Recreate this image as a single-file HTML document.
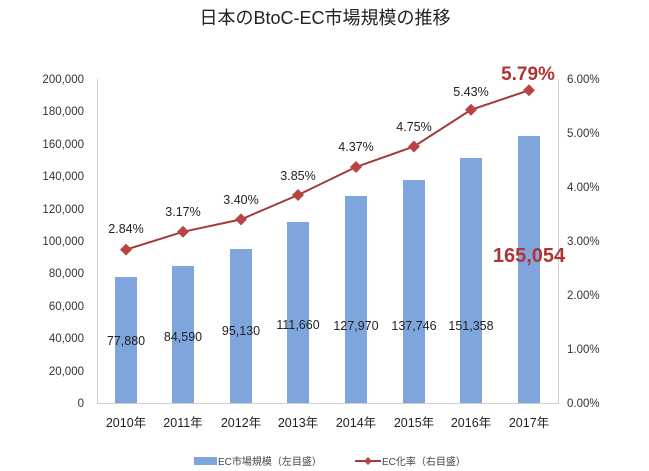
<!DOCTYPE html>
<html><head><meta charset="utf-8"><style>
html,body{margin:0;padding:0;background:#fff;}
svg{display:block;font-family:"Liberation Sans","Noto Sans CJK JP",sans-serif;}
</style></head><body>
<svg width="649" height="471" viewBox="0 0 649 471">
<text x="325" y="24" text-anchor="middle" font-size="18" fill="#222">日本のBtoC-EC市場規模の推移</text>
<g stroke="#d0d0d0" stroke-width="1">
<line x1="97.5" y1="79" x2="97.5" y2="403"/>
<line x1="558.5" y1="79" x2="558.5" y2="403"/>
<line x1="97" y1="403.5" x2="559" y2="403.5"/>
</g>
<g font-size="11.5" fill="#333" text-anchor="end">
<text x="84" y="83">200,000</text><text x="84" y="115">180,000</text><text x="84" y="148">160,000</text><text x="84" y="180">140,000</text><text x="84" y="213">120,000</text><text x="84" y="245">100,000</text><text x="84" y="277">80,000</text><text x="84" y="310">60,000</text><text x="84" y="342">40,000</text><text x="84" y="375">20,000</text><text x="84" y="407">0</text>
</g>
<g font-size="11.5" fill="#333">
<text x="567" y="83">6.00%</text><text x="567" y="137">5.00%</text><text x="567" y="191">4.00%</text><text x="567" y="245">3.00%</text><text x="567" y="299">2.00%</text><text x="567" y="353">1.00%</text><text x="567" y="407">0.00%</text>
</g>
<g fill="#7ea6dc">
<rect x="115" y="277" width="22" height="126"/>
<rect x="172" y="266" width="22" height="137"/>
<rect x="230" y="249" width="22" height="154"/>
<rect x="287" y="222" width="22" height="181"/>
<rect x="345" y="196" width="22" height="207"/>
<rect x="403" y="180" width="22" height="223"/>
<rect x="460" y="158" width="22" height="245"/>
<rect x="518" y="136" width="22" height="267"/>
</g>
<g font-size="12.5" fill="#222" text-anchor="middle">
<text x="126" y="345">77,880</text><text x="183" y="341">84,590</text><text x="241" y="335">95,130</text><text x="298" y="329">111,660</text><text x="356" y="330">127,970</text><text x="414" y="330">137,746</text><text x="471" y="330">151,358</text>
</g>
<polyline fill="none" stroke="#a33a3a" stroke-width="2" points="126,249.6 183,231.8 241,219.4 298,195 356,167 414,146.5 471,109.8 529,90.3"/>
<g fill="#b94444">
<path d="M126,243.6l6,6l-6,6l-6,-6z"/><path d="M183,225.8l6,6l-6,6l-6,-6z"/><path d="M241,213.4l6,6l-6,6l-6,-6z"/><path d="M298,189l6,6l-6,6l-6,-6z"/><path d="M356,161l6,6l-6,6l-6,-6z"/><path d="M414,140.5l6,6l-6,6l-6,-6z"/><path d="M471,103.8l6,6l-6,6l-6,-6z"/><path d="M529,84.3l6,6l-6,6l-6,-6z"/>
</g>
<g font-size="12.5" fill="#222" text-anchor="middle">
<text x="126" y="233">2.84%</text><text x="183" y="216">3.17%</text><text x="241" y="204">3.40%</text><text x="298" y="180">3.85%</text><text x="356" y="151">4.37%</text><text x="414" y="131">4.75%</text><text x="471" y="96">5.43%</text>
</g>
<text x="528" y="80" text-anchor="middle" font-size="19" font-weight="bold" fill="#b03434">5.79%</text>
<text x="529" y="262" text-anchor="middle" font-size="20" font-weight="bold" fill="#b03434">165,054</text>
<g font-size="12.5" fill="#222" text-anchor="middle">
<text x="126" y="427">2010年</text><text x="183" y="427">2011年</text><text x="241" y="427">2012年</text><text x="298" y="427">2013年</text><text x="356" y="427">2014年</text><text x="414" y="427">2015年</text><text x="471" y="427">2016年</text><text x="529" y="427">2017年</text>
</g>
<rect x="194" y="457" width="23" height="8" fill="#7ea6dc"/>
<text x="218" y="465" font-size="10" fill="#444">EC市場規模（左目盛）</text>
<line x1="355" y1="461" x2="381" y2="461" stroke="#a33a3a" stroke-width="2"/>
<path d="M368,457l4,4l-4,4l-4,-4z" fill="#b94444"/>
<text x="382" y="465" font-size="10" fill="#444">EC化率（右目盛）</text>
</svg>
</body></html>
